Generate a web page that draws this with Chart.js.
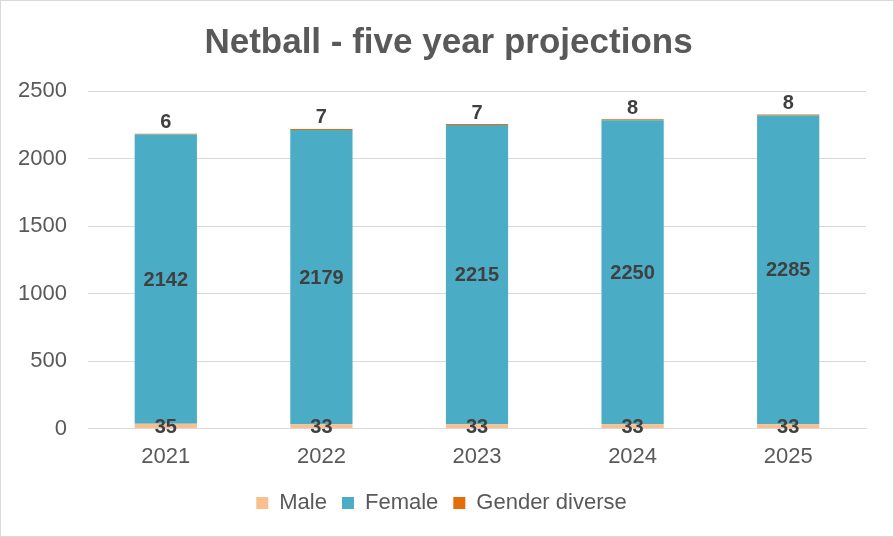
<!DOCTYPE html>
<html>
<head>
<meta charset="utf-8">
<script src="https://cdn.jsdelivr.net/npm/chart.js@4.4.0/dist/chart.umd.min.js"></script>
<style>
  html, body { margin: 0; padding: 0; background: #fff; }
  #wrap { width: 892px; height: 535px; border: 1px solid #d9d9d9; position: relative; }
</style>
</head>
<body>
<div id="wrap"><canvas id="netball-chart"></canvas></div>
<script>
const years = ["2021", "2022", "2023", "2024", "2025"];
const maleValues = [35, 33, 33, 33, 33];
const femaleValues = [2142, 2179, 2215, 2250, 2285];
const diverseValues = [6, 7, 7, 8, 8];

const fontFamily = "'Liberation Sans', Arial, sans-serif";
const labelFont = "bold 20px " + fontFamily;

// Draws the value labels like Excel: centred in a segment, or above the top one
const valueLabels = {
    id: "valueLabels",
    afterDatasetsDraw(chart) {
        const ctx = chart.ctx;
        ctx.save();
        ctx.font = labelFont;
        ctx.fillStyle = "#404040";
        ctx.textAlign = "center";
        chart.data.datasets.forEach((ds, i) => {
            const meta = chart.getDatasetMeta(i);
            meta.data.forEach((bar, j) => {
                const v = ds.data[j];
                if (ds.labelPos === "top") {
                    ctx.textBaseline = "bottom";
                    ctx.fillText(v, bar.x, bar.y - 1);
                } else {
                    ctx.textBaseline = "middle";
                    ctx.fillText(v, bar.x, (bar.y + bar.base) / 2 + 1);
                }
            });
        });
        ctx.restore();
    },
};

// Excel centres the title on the whole chart, not on the padded box
const centreTitle = {
    id: "centreTitle",
    afterLayout(chart) {
        if (chart.titleBlock) {
            chart.titleBlock.left += 14;
        }
    },
};

const netballContext = document.getElementById("netball-chart");

const netballData = {
    labels: years,
    datasets: [
        {
            label: "Male",
            data: maleValues,
            backgroundColor: "#F9BF8F",
            labelPos: "center",
        },
        {
            label: "Female",
            data: femaleValues,
            backgroundColor: "#4BACC6",
            labelPos: "center",
        },
        {
            label: "Gender diverse",
            data: diverseValues,
            backgroundColor: "#E46C0A",
            labelPos: "top",
        },
    ],
};

const netballConfig = {
    type: "bar",
    data: netballData,
    plugins: [valueLabels, centreTitle],
    options: {
        responsive: true,
        maintainAspectRatio: false,
        animation: false,
        datasets: {
            bar: { categoryPercentage: 1, barPercentage: 0.4 },
        },
        layout: { padding: { left: 16, right: 27, top: 10, bottom: 12 } },
        plugins: {
            title: {
                display: true,
                text: "Netball - five year projections",
                color: "#595959",
                font: { family: fontFamily, size: 35, weight: "bold" },
                padding: { top: 11, bottom: 27 },
            },
            legend: {
                position: "bottom",
                labels: {
                    color: "#595959",
                    font: { family: fontFamily, size: 22 },
                    boxWidth: 12,
                    boxHeight: 12,
                    padding: 15,
                },
            },
            tooltip: { enabled: false },
        },
        scales: {
            x: {
                stacked: true,
                grid: { display: false },
                border: { color: "#d9d9d9" },
                ticks: {
                    padding: 7,
                    color: "#595959",
                    font: { family: fontFamily, size: 22 },
                },
            },
            y: {
                stacked: true,
                min: 0,
                max: 2500,
                border: { display: false },
                grid: { color: "#d9d9d9", drawTicks: false },
                afterFit: (scale) => { scale.width = 71; },
                ticks: {
                    stepSize: 500,
                    padding: 21,
                    color: "#595959",
                    font: { family: fontFamily, size: 22 },
                    callback: (v) => String(v),
                },
            },
        },
    },
};

const netballChart = new Chart(netballContext, netballConfig);
</script>
</body>
</html>
